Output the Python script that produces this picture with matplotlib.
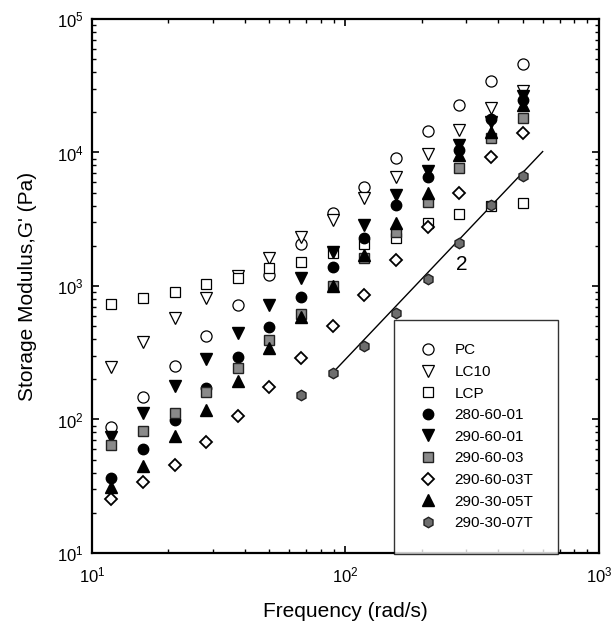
import matplotlib
matplotlib.use("Agg")
import matplotlib.pyplot as plt
import numpy as np

plt.rcParams['font.family'] = ['Liberation Sans', 'DejaVu Sans']
plt.rcParams['mathtext.fontset'] = 'custom'
plt.rcParams['mathtext.rm'] = 'Liberation Sans'

# frequency (rad/s)
freq = [11.9, 15.9, 21.2, 28.2, 37.6, 50.1, 66.8, 89.1, 118.8, 158.4, 211.2, 281.5, 375.3, 500.4]

# storage modulus G' (Pa)
pc      = [88, 148, 252, 425, 721, 1209, 2064, 3505, 5547, 9051, 14550, 22700, 34500, 46000]
lc10    = [249, 383, 573, 809, 1180, 1613, 2317, 3119, 4540, 6586, 9694, 14740, 21430, 29050]
lcp     = [730, 809, 906, 1031, 1140, 1357, 1520, 1760, 2064, 2288, 2950, 3459, 4000, 4205]
s280_60_01 = [36.7, 60.1, 99, 173, 292, 491, 822, 1395, 2275, 4045, 6586, 10440, 17740, 24700]
s290_60_01 = [74.3, 111, 178, 282, 447, 721, 1142, 1807, 2864, 4804, 7311, 11380, 17000, 26500]
s290_60_03 = [64.4, 82, 111, 161, 242, 394, 614, 1000, 1630, 2551, 4280, 7690, 12770, 18030]
s290_60_03T = [25.2, 33.9, 45.6, 68.2, 106, 176, 287, 500, 856, 1566, 2750, 5000, 9200, 13930]
s290_30_05T = [31, 45.1, 75.2, 118, 194, 345, 590, 1000, 1700, 2949, 5000, 9570, 14320, 22700]
freq_07T = [66.8, 89.1, 118.8, 158.4, 211.2, 281.5, 375.3, 500.4]
s290_30_07T = [152, 224, 357, 624, 1122, 2111, 4045, 6670]

# slope-2 guide line
line_f = [89.1, 600]
line_g = [224, 224 * (600 / 89.1) ** 2]

fig = plt.figure(figsize=(6.13, 6.32), dpi=100)
ax = fig.add_axes([0.150, 0.125, 0.827, 0.845])

ms = 7.5
ax.plot(line_f, line_g, color='black', lw=1.0, zorder=1)
ax.plot(freq, pc, 'o', mfc='white', mec='black', ms=ms + 0.5, mew=0.9, label='PC')
ax.plot(freq, lc10, 'v', mfc='white', mec='black', ms=ms + 0.5, mew=0.9, label='LC10')
ax.plot(freq, lcp, 's', mfc='white', mec='black', ms=ms, mew=0.9, label='LCP')
ax.plot(freq, s280_60_01, 'o', mfc='black', mec='black', ms=ms, label='280-60-01')
ax.plot(freq, s290_60_01, 'v', mfc='black', mec='black', ms=ms + 0.5, label='290-60-01')
ax.plot(freq, s290_60_03, 's', mfc='#8a8a8a', mec='#222222', ms=ms - 0.5, mew=1.0, label='290-60-03')
ax.plot(freq, s290_60_03T, 'D', mfc='white', mec='black', ms=ms - 1, mew=1.3, label='290-60-03T')
ax.plot(freq, s290_30_05T, '^', mfc='black', mec='black', ms=ms + 0.5, label='290-30-05T')
ax.plot(freq_07T, s290_30_07T, 'h', mfc='#6e6e6e', mec='#222222', ms=ms, mew=1.0, label='290-30-07T')

ax.set_xscale('log')
ax.set_yscale('log')
ax.set_xlim(10, 1000)
ax.set_ylim(10, 1e5)

ax.tick_params(which='both', direction='in', top=True, right=True, labelsize=12)
ax.tick_params(which='major', length=5, width=1.2)
ax.tick_params(which='minor', length=3, width=1.0)
ax.tick_params(axis='x', which='major', pad=9)
ax.tick_params(axis='y', which='major', pad=6)
for sp in ax.spines.values():
    sp.set_linewidth(1.6)

ax.set_xlabel('Frequency (rad/s)', fontsize=15, labelpad=12)
ax.set_ylabel("Storage Modulus,G' (Pa)", fontsize=15, labelpad=14)

ax.text(288, 1436, '2', fontsize=15, ha='center', va='center')

leg = ax.legend(loc='lower left', bbox_to_anchor=(0.596, -0.002, 0.323, 0.44), mode='expand',
                fontsize=11, frameon=True, fancybox=False, borderpad=1.55,
                labelspacing=0.5, handletextpad=1.0, handlelength=1.4, borderaxespad=0)
leg.get_frame().set_edgecolor('black')
leg.get_frame().set_linewidth(1.0)

fig.savefig('out.png', dpi=100)
